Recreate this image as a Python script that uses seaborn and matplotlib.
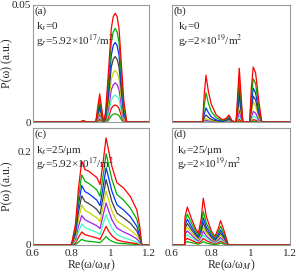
import matplotlib
matplotlib.use("Agg")
import matplotlib.pyplot as plt
import seaborn as sns
import pandas as pd

# curve order: outermost (red) first, down to the smallest one
curve_colours = ["#ff0000", "#00b000", "#0033ff", "#404040", "#c8d400",
                 "#a020f0", "#40ffc0", "#ff0000", "#00b000"]

# (a) k_s=0, g_r=5.92e17/m^2
x_a = [0.60, 0.84, 0.86, 0.88, 0.925, 0.935, 0.945, 0.955, 0.965, 0.975,
       0.99, 1.005, 1.015, 1.025, 1.035, 1.045, 1.06, 1.07, 1.085, 1.20]
p_a = [
    [0, 0, 0.0006, 0, 0, 0.0065, 0.0120, 0.0060, 0, 0.0040, 0.0210, 0.0400, 0.0450, 0.0465, 0.0450, 0.0400, 0.0210, 0.0090, 0, 0],
    [0, 0, 0.0004, 0, 0, 0.0050, 0.0095, 0.0045, 0, 0.0025, 0.0170, 0.0340, 0.0385, 0.0400, 0.0385, 0.0340, 0.0170, 0.0060, 0, 0],
    [0, 0, 0.0003, 0, 0, 0.0038, 0.0075, 0.0035, 0, 0.0015, 0.0135, 0.0285, 0.0327, 0.0340, 0.0327, 0.0285, 0.0135, 0.0040, 0, 0],
    [0, 0, 0.0002, 0, 0, 0.0030, 0.0060, 0.0028, 0, 0.0008, 0.0105, 0.0235, 0.0268, 0.0280, 0.0268, 0.0235, 0.0105, 0.0025, 0, 0],
    [0, 0, 0.0001, 0, 0, 0.0022, 0.0045, 0.0020, 0, 0.0003, 0.0078, 0.0183, 0.0210, 0.0220, 0.0210, 0.0183, 0.0078, 0.0012, 0, 0],
    [0, 0, 0, 0, 0, 0.0015, 0.0032, 0.0014, 0, 0, 0.0055, 0.0138, 0.0159, 0.0167, 0.0159, 0.0138, 0.0055, 0.0005, 0, 0],
    [0, 0, 0, 0, 0, 0.0010, 0.0022, 0.0009, 0, 0, 0.0035, 0.0094, 0.0109, 0.0115, 0.0109, 0.0094, 0.0035, 0, 0, 0],
    [0, 0, 0, 0, 0, 0.0006, 0.0013, 0.0005, 0, 0, 0.0018, 0.0058, 0.0069, 0.0073, 0.0069, 0.0058, 0.0018, 0, 0, 0],
    [0, 0, 0, 0, 0, 0.0002, 0.0006, 0.0002, 0, 0, 0.0006, 0.0027, 0.0033, 0.0035, 0.0033, 0.0027, 0.0006, 0, 0, 0],
]

# (b) k_s=0, g_r=2e19/m^2
x_b = [0.60, 0.756, 0.764, 0.773, 0.785, 0.80, 0.825, 0.855, 0.875, 0.89, 0.905, 0.926,
       0.935, 0.942, 0.95, 0.96, 0.995, 1.003, 1.013, 1.025, 1.04, 1.056, 1.20]
p_b = [
    [0, 0, 0.012, 0.020, 0.013, 0.0075, 0.003, 0.001, 0.0015, 0.003, 0.0005, 0, 0.013, 0.023, 0.013, 0, 0, 0.014, 0.0235, 0.021, 0.010, 0, 0],
    [0, 0, 0.007, 0.0125, 0.008, 0.0045, 0.0018, 0.0007, 0.0012, 0.0025, 0.0004, 0, 0.010, 0.0185, 0.010, 0, 0, 0.010, 0.0185, 0.0165, 0.007, 0, 0],
    [0, 0, 0.0035, 0.006, 0.004, 0.0022, 0.0009, 0.0004, 0.0009, 0.0018, 0.0003, 0, 0.0075, 0.015, 0.0075, 0, 0, 0.007, 0.0145, 0.0125, 0.005, 0, 0],
    [0, 0, 0.0018, 0.003, 0.002, 0.0011, 0.0005, 0.0002, 0.0006, 0.0012, 0.0002, 0, 0.0055, 0.0115, 0.0055, 0, 0, 0.005, 0.011, 0.0095, 0.0035, 0, 0],
    [0, 0, 0.0009, 0.0015, 0.001, 0.0006, 0.0003, 0.0001, 0.0004, 0.0008, 0.0001, 0, 0.004, 0.0085, 0.004, 0, 0, 0.0035, 0.0085, 0.007, 0.0022, 0, 0],
    [0, 0, 0.0005, 0.0008, 0.0005, 0.0003, 0.0001, 0, 0.0002, 0.0005, 0, 0, 0.0022, 0.005, 0.0022, 0, 0, 0.0018, 0.0045, 0.0038, 0.001, 0, 0],
    [0, 0, 0.0002, 0.0004, 0.0003, 0.0001, 0, 0, 0.0001, 0.0003, 0, 0, 0.0012, 0.0028, 0.0012, 0, 0, 0.0009, 0.0025, 0.002, 0.0005, 0, 0],
    [0, 0, 0.0001, 0.0002, 0.0001, 0, 0, 0, 0, 0.0001, 0, 0, 0.0005, 0.0012, 0.0005, 0, 0, 0.0003, 0.001, 0.0008, 0.0002, 0, 0],
    [0, 0, 0, 0.0001, 0, 0, 0, 0, 0, 0, 0, 0, 0.0001, 0.0004, 0.0001, 0, 0, 0.0001, 0.0003, 0.0002, 0, 0, 0],
]

# (c) k_s=25/um, g_r=5.92e17/m^2
x_c = [0.60, 0.79, 0.80, 0.82, 0.835, 0.852, 0.869, 0.887, 0.912, 0.93, 0.947, 0.965,
       0.978, 0.992, 1.008, 1.034, 1.068, 1.103, 1.137, 1.152, 1.163, 1.20]
p_c = [
    [0, 0, 0.003, 0.045, 0.12, 0.179, 0.161, 0.158, 0.150, 0.144, 0.129, 0.185, 0.229, 0.200, 0.168, 0.133, 0.122, 0.104, 0.075, 0.040, 0, 0],
    [0, 0, 0.002, 0.038, 0.10, 0.150, 0.136, 0.132, 0.124, 0.118, 0.104, 0.155, 0.195, 0.170, 0.140, 0.108, 0.096, 0.079, 0.055, 0.028, 0, 0],
    [0, 0, 0.0015, 0.030, 0.085, 0.127, 0.114, 0.110, 0.102, 0.096, 0.084, 0.130, 0.165, 0.142, 0.115, 0.086, 0.075, 0.061, 0.040, 0.020, 0, 0],
    [0, 0, 0.001, 0.024, 0.070, 0.105, 0.093, 0.089, 0.082, 0.076, 0.066, 0.108, 0.140, 0.118, 0.093, 0.068, 0.058, 0.047, 0.030, 0.015, 0, 0],
    [0, 0, 0.001, 0.018, 0.055, 0.085, 0.074, 0.070, 0.063, 0.058, 0.050, 0.088, 0.115, 0.095, 0.073, 0.051, 0.042, 0.032, 0.020, 0.010, 0, 0],
    [0, 0, 0, 0.013, 0.040, 0.063, 0.054, 0.050, 0.045, 0.041, 0.035, 0.068, 0.090, 0.072, 0.054, 0.036, 0.028, 0.0215, 0.013, 0.006, 0, 0],
    [0, 0, 0, 0.008, 0.028, 0.045, 0.037, 0.034, 0.030, 0.027, 0.022, 0.048, 0.065, 0.050, 0.036, 0.022, 0.016, 0.011, 0.006, 0.003, 0, 0],
    [0, 0, 0, 0.004, 0.016, 0.028, 0.022, 0.020, 0.017, 0.015, 0.012, 0.028, 0.040, 0.029, 0.020, 0.011, 0.007, 0.005, 0.003, 0.001, 0, 0],
    [0, 0, 0, 0.001, 0.006, 0.012, 0.009, 0.008, 0.007, 0.006, 0.005, 0.012, 0.018, 0.012, 0.008, 0.004, 0.003, 0.002, 0.001, 0, 0, 0],
]

# (d) k_s=25/um, g_r=2e19/m^2
x_d = [0.60, 0.664, 0.666, 0.678, 0.70, 0.72, 0.734, 0.748, 0.759, 0.775, 0.80,
       0.818, 0.835, 0.847, 0.865, 0.886, 1.20]
p_d = [
    [0, 0, 0.060, 0.081, 0.055, 0.035, 0.025, 0.055, 0.100, 0.060, 0.030, 0.018, 0.035, 0.052, 0.030, 0, 0],
    [0, 0, 0.050, 0.066, 0.046, 0.030, 0.021, 0.042, 0.072, 0.046, 0.025, 0.015, 0.028, 0.040, 0.023, 0, 0],
    [0, 0, 0.042, 0.055, 0.038, 0.025, 0.018, 0.034, 0.058, 0.038, 0.020, 0.012, 0.022, 0.032, 0.018, 0, 0],
    [0, 0, 0.035, 0.046, 0.032, 0.021, 0.015, 0.028, 0.048, 0.031, 0.017, 0.010, 0.018, 0.026, 0.015, 0, 0],
    [0, 0, 0.029, 0.038, 0.026, 0.017, 0.012, 0.023, 0.039, 0.025, 0.014, 0.008, 0.015, 0.021, 0.012, 0, 0],
    [0, 0, 0.023, 0.030, 0.021, 0.013, 0.009, 0.018, 0.030, 0.019, 0.010, 0.006, 0.011, 0.016, 0.009, 0, 0],
    [0, 0, 0.017, 0.022, 0.015, 0.010, 0.007, 0.013, 0.022, 0.014, 0.008, 0.004, 0.008, 0.012, 0.007, 0, 0],
    [0, 0, 0.010, 0.014, 0.010, 0.006, 0.004, 0.008, 0.014, 0.009, 0.005, 0.003, 0.005, 0.008, 0.004, 0, 0],
    [0, 0, 0.005, 0.007, 0.005, 0.003, 0.002, 0.004, 0.007, 0.004, 0.002, 0.001, 0.002, 0.004, 0.002, 0, 0],
]

x_ticks = [0.6, 0.8, 1.0, 1.2]
x_tick_labels = ["0.6", "0.8", "1", "1.2"]

sns.set_style("white")
plt.rcParams["font.family"] = ["Liberation Serif", "DejaVu Serif"]
plt.rcParams["mathtext.fontset"] = "stix"
FS = 8
FRAME = "#9a9a9a"


def to_frame(x, rows):
    recs = []
    for i, row in enumerate(rows):
        for xv, yv in zip(x, row):
            recs.append({"curve": f"c{i}", "w": xv, "P": yv})
    return pd.DataFrame(recs)


def draw_panel(ax, x, rows, ymax, yticks, ylabels, tag, line1, line2, tx, ty1, ty2,
               bottom_row, left_col):
    df = to_frame(x, rows)
    names = [f"c{i}" for i in range(len(rows))]
    palette = {n: curve_colours[i] for i, n in enumerate(names)}
    # smallest curves first so the red envelope sits on top
    sns.lineplot(data=df, x="w", y="P", hue="curve", hue_order=names[::-1],
                 palette=palette, estimator=None, sort=False, legend=False,
                 linewidth=0.9, ax=ax)
    ax.set_xlim(0.6, 1.2)
    ax.set_ylim(0, ymax)
    ax.set_xticks(x_ticks)
    ax.set_xticklabels(x_tick_labels if bottom_row else [])
    if left_col:
        ax.set_yticks(yticks)
        ax.set_yticklabels(ylabels)
        ax.set_ylabel("P(ω) (a.u.)", fontsize=8.5)
        ax.yaxis.set_label_coords(-0.17, 0.5)
    else:
        ax.set_yticks([])
        ax.set_ylabel("")
    if bottom_row:
        ax.set_xlabel("Re(ω/ω$_M$)", fontsize=8.5)
        ax.xaxis.set_label_coords(0.5, -0.105)
    else:
        ax.set_xlabel("")
    ax.tick_params(direction="in", length=3, width=0.6, color=FRAME,
                   labelsize=FS)
    ax.tick_params(axis="x", pad=3)
    ax.tick_params(axis="y", pad=1.5)
    for sp in ax.spines.values():
        sp.set_edgecolor(FRAME)
        sp.set_linewidth(0.8)
    ax.text(0.015, 0.985, tag, transform=ax.transAxes, ha="left", va="top", fontsize=FS)
    ax.text(tx, ty1, line1, transform=ax.transAxes, ha="left", va="top", fontsize=FS)
    ax.text(tx, ty2, line2, transform=ax.transAxes, ha="left", va="top", fontsize=FS)


fig = plt.figure(figsize=(2.99, 2.73), dpi=100)
W, H = 299, 273


def add_ax(x0, x1, y0, y1):
    return fig.add_axes([x0 / W, 1 - y1 / H, (x1 - x0) / W, (y1 - y0) / H])


ax_a = add_ax(33, 149, 5, 122)
ax_b = add_ax(172, 290, 5, 122)
ax_c = add_ax(33, 149, 128, 245)
ax_d = add_ax(172, 290, 128, 245)

draw_panel(ax_a, x_a, p_a, 0.05, [0, 0.05], ["0", "0.05"], "(a)",
           "k$_s$=0", "g$_r$=5.92×10$^{17}$/m$^2$", 0.025, 0.87, 0.765, False, True)
draw_panel(ax_b, x_b, p_b, 0.05, [], [], "(b)",
           "k$_s$=0", "g$_r$=2×10$^{19}$/m$^2$", 0.05, 0.87, 0.765, False, False)
draw_panel(ax_c, x_c, p_c, 0.25, [0, 0.2], ["0", "0.2"], "(c)",
           "k$_s$=25/μm", "g$_r$=5.92×10$^{17}$/m$^2$", 0.025, 0.86, 0.76, True, True)
draw_panel(ax_d, x_d, p_d, 0.25, [], [], "(d)",
           "k$_s$=25/μm", "g$_r$=2×10$^{19}$/m$^2$", 0.04, 0.86, 0.76, True, False)

fig.savefig("out.png", dpi=100)
